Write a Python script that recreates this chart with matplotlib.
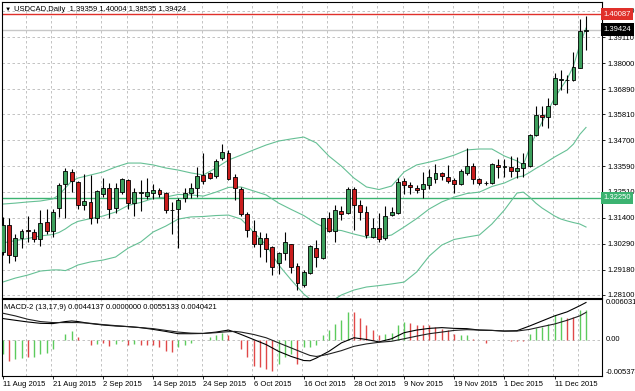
import matplotlib
matplotlib.use("Agg")
import matplotlib.pyplot as plt
import matplotlib.transforms as mtrans
import numpy as np

plt.rcParams['font.family'] = ['Liberation Sans', 'DejaVu Sans']
plt.rcParams['font.size'] = 5.5

# ---- data ----
symbol = "USDCAD,Daily"
last_ohlc = [1.39359, 1.40004, 1.38535, 1.39424]
date_labels = ["11 Aug 2015", "21 Aug 2015", "2 Sep 2015", "14 Sep 2015", "24 Sep 2015",
               "6 Oct 2015", "16 Oct 2015", "28 Oct 2015", "9 Nov 2015", "19 Nov 2015",
               "1 Dec 2015", "11 Dec 2015"]

opens = [1.2995, 1.3109, 1.2976, 1.3055, 1.3087, 1.3080, 1.3051, 1.3121, 1.3083, 1.3180,
         1.3282, 1.3336, 1.3293, 1.3194, 1.3207, 1.3137, 1.3240, 1.3265, 1.3180, 1.3249,
         1.3301, 1.3204, 1.3246, 1.3234, 1.3246, 1.3258, 1.3244, 1.3173, 1.3175, 1.3222,
         1.3247, 1.3265, 1.3322, 1.3331, 1.3318, 1.3393, 1.3417, 1.3315, 1.3261, 1.3154,
         1.3083, 1.3027, 1.3055, 1.3015, 1.2947, 1.2990, 1.3026, 1.2934, 1.2853, 1.2903,
         1.3012, 1.2966, 1.3137, 1.3083, 1.3168, 1.3158, 1.3261, 1.3194, 1.3165, 1.3058,
         1.3094, 1.3055, 1.3150, 1.3161, 1.3298, 1.3279, 1.3268, 1.3261, 1.3279, 1.3304,
         1.3329, 1.3315, 1.3301, 1.3282, 1.3329, 1.3360, 1.3304, 1.3287, 1.3286, 1.3365,
         1.3358, 1.3358, 1.3340, 1.3351, 1.3362, 1.3493, 1.3578, 1.3568, 1.3625, 1.3727,
         1.3726, 1.3727, 1.3780, 1.39359]
highs = [1.3144, 1.3138, 1.3072, 1.3093, 1.3147, 1.3090, 1.3173, 1.3176, 1.3176, 1.3286,
         1.3350, 1.3346, 1.3298, 1.3326, 1.3322, 1.3258, 1.3309, 1.3288, 1.3288, 1.3311,
         1.3304, 1.3265, 1.3301, 1.3308, 1.3283, 1.3265, 1.3251, 1.3207, 1.3222, 1.3265,
         1.3288, 1.3356, 1.3417, 1.3336, 1.3389, 1.3453, 1.3429, 1.3326, 1.3270, 1.3165,
         1.3130, 1.3079, 1.3075, 1.3020, 1.2994, 1.3079, 1.3027, 1.2945, 1.2917, 1.3023,
         1.3045, 1.3138, 1.3165, 1.3194, 1.3190, 1.3270, 1.3272, 1.3215, 1.3190, 1.3137,
         1.3158, 1.3190, 1.3187, 1.3308, 1.3311, 1.3293, 1.3279, 1.3336, 1.3346, 1.3369,
         1.3336, 1.3365, 1.3308, 1.3346, 1.3436, 1.3374, 1.3308, 1.3298, 1.3372, 1.3389,
         1.3389, 1.3403, 1.3397, 1.3415, 1.3497, 1.3617, 1.3617, 1.3649, 1.3759, 1.3770,
         1.3749, 1.3848, 1.3987, 1.40004]
lows = [1.2981, 1.2945, 1.2956, 1.3012, 1.3037, 1.3037, 1.3019, 1.3070, 1.3058, 1.3141,
        1.3137, 1.3251, 1.3176, 1.3173, 1.3113, 1.3116, 1.3228, 1.3137, 1.3158, 1.3240,
        1.3176, 1.3147, 1.3168, 1.3219, 1.3219, 1.3227, 1.3158, 1.3070, 1.3009, 1.3208,
        1.3224, 1.3228, 1.3284, 1.3304, 1.3311, 1.3388, 1.3301, 1.3215, 1.3147, 1.3058,
        1.3015, 1.2970, 1.2951, 1.2895, 1.2899, 1.2959, 1.2905, 1.2831, 1.2845, 1.2899,
        1.2928, 1.2962, 1.3080, 1.3037, 1.3130, 1.3155, 1.3087, 1.3130, 1.3052, 1.3055,
        1.3037, 1.3045, 1.3147, 1.3155, 1.3241, 1.3241, 1.3244, 1.3222, 1.3261, 1.3289,
        1.3301, 1.3286, 1.3244, 1.3279, 1.3322, 1.3284, 1.3279, 1.3279, 1.3284, 1.3308,
        1.3315, 1.3315, 1.3308, 1.3315, 1.3358, 1.3488, 1.3531, 1.3521, 1.3621, 1.3685,
        1.3672, 1.3724, 1.3777, 1.38535]
closes = [1.3109, 1.2981, 1.3055, 1.3083, 1.3082, 1.3051, 1.3118, 1.3082, 1.3164, 1.3279,
          1.3339, 1.3296, 1.3194, 1.3211, 1.3137, 1.3254, 1.3265, 1.3177, 1.3265, 1.3305,
          1.3204, 1.3249, 1.3248, 1.3251, 1.3258, 1.3240, 1.3173, 1.3174, 1.3215, 1.3246,
          1.3265, 1.3318, 1.3298, 1.3309, 1.3383, 1.3419, 1.3304, 1.3265, 1.3155, 1.3087,
          1.3026, 1.3055, 1.3008, 1.2931, 1.2990, 1.3036, 1.2928, 1.2862, 1.2907, 1.3020,
          1.2973, 1.3137, 1.3083, 1.3173, 1.3154, 1.3261, 1.3194, 1.3165, 1.3066, 1.3094,
          1.3051, 1.3147, 1.3164, 1.3293, 1.3279, 1.3269, 1.3258, 1.3283, 1.3312, 1.3332,
          1.3318, 1.3298, 1.3282, 1.3340, 1.3360, 1.3304, 1.3286, 1.3288, 1.3369, 1.3358,
          1.3359, 1.3340, 1.3353, 1.3375, 1.3493, 1.3578, 1.3568, 1.3617, 1.3737, 1.3730,
          1.3727, 1.3782, 1.3937, 1.39424]

# Bollinger bands, sampled at these bars
bb_bars = [0, 2, 4, 6, 8, 9, 10, 11, 12, 14, 16, 18, 20, 22, 24, 26, 28, 30, 32, 34,
           36, 38, 40, 42, 44, 46, 48, 50, 52, 54, 56, 58, 60, 62, 64, 66, 68, 70, 72, 74,
           76, 78, 80, 82, 83, 84, 85, 86, 87, 88, 89, 90, 91, 92, 93]
bb_upper = [1.3198, 1.3202, 1.3207, 1.3211, 1.3220, 1.3237, 1.3267, 1.3296, 1.3309, 1.3322,
            1.3335, 1.3356, 1.3373, 1.3373, 1.3365, 1.3352, 1.3343, 1.3331, 1.3322, 1.3352,
            1.3386, 1.3407, 1.3429, 1.3450, 1.3467, 1.3476, 1.3484, 1.3459, 1.3403, 1.3360,
            1.3309, 1.3271, 1.3260, 1.3275, 1.3335, 1.3365, 1.3377, 1.3390, 1.3407, 1.3429,
            1.3433, 1.3433, 1.3403, 1.3382, 1.3365, 1.3437, 1.3497, 1.3548, 1.3599, 1.3651,
            1.3693, 1.3732, 1.3787, 1.3877, 1.3949]
bb_middle = [1.3032, 1.3042, 1.3051, 1.3062, 1.3068, 1.3077, 1.3092, 1.3111, 1.3124, 1.3136,
             1.3147, 1.3164, 1.3192, 1.3205, 1.3222, 1.3228, 1.3239, 1.3237, 1.3232, 1.3249,
             1.3269, 1.3271, 1.3254, 1.3237, 1.3202, 1.3175, 1.3149, 1.3115, 1.3089, 1.3085,
             1.3070, 1.3057, 1.3055, 1.3066, 1.3100, 1.3136, 1.3177, 1.3207, 1.3228, 1.3243,
             1.3249, 1.3273, 1.3288, 1.3313, 1.3318, 1.3333, 1.3350, 1.3365, 1.3382, 1.3399,
             1.3414, 1.3429, 1.3454, 1.3495, 1.3525]
bb_lower = [1.2865, 1.2882, 1.2895, 1.2912, 1.2917, 1.2917, 1.2914, 1.2925, 1.2938, 1.2951,
            1.2959, 1.2972, 1.3010, 1.3036, 1.3079, 1.3104, 1.3134, 1.3143, 1.3145, 1.3149,
            1.3151, 1.3134, 1.3079, 1.3023, 1.2938, 1.2874, 1.2814, 1.2771, 1.2776, 1.2810,
            1.2831, 1.2844, 1.2850, 1.2857, 1.2865, 1.2908, 1.2976, 1.3023, 1.3047, 1.3057,
            1.3066, 1.3113, 1.3173, 1.3245, 1.3249, 1.3228, 1.3202, 1.3181, 1.3164, 1.3147,
            1.3134, 1.3126, 1.3119, 1.3113, 1.3100]

price_ticks = [1.28100, 1.29180, 1.30290, 1.31400, 1.32510, 1.33590, 1.34700,
               1.35810, 1.36890, 1.38000, 1.39110, 1.40220]
resistance = 1.40087
support = 1.32250

# MACD panel
macd_title = "MACD-2 (13,17,9) 0.0044137 0.0000000 0.0055133 0.0040421"
macd_scale = [-0.005374, 0.006031]
hist = [-0.0021, -0.0031, -0.00285, -0.00275, -0.0026, -0.0026, -0.0021, -0.0020, -0.00135, 0.0,
        0.0009, 0.00125, 0.0004, 0.0, -0.00085, -0.0006, -0.00045, -0.00095, -0.0006, -0.00025,
        -0.00075, -0.0007, -0.00075, -0.00085, -0.00075, -0.0011, -0.0016, -0.00185, -0.0011, -0.00075,
        -0.00045, -0.0001, 0.0, 0.0004, 0.00075, 0.001, 0.00075, 0.0, -0.00135, -0.0026,
        -0.00395, -0.0041, -0.00435, -0.0047, -0.0036, -0.0026, -0.0021, -0.0036, -0.0011, -0.0011,
        -0.00085, 0.00075, 0.0014, 0.0024, 0.0029, 0.00405, 0.00405, 0.00325, 0.00225, 0.0014,
        0.00075, 0.0009, 0.00105, 0.00215, 0.00265, 0.00255, 0.00225, 0.00215, 0.00215, 0.0019,
        0.00165, 0.0014, 0.0009, 0.00075, 0.00065, 0.00015, -0.0001, -0.0005, 0.0, -0.00005,
        -0.00005, -0.0002, -0.0002, -0.0002, 0.0009, 0.00175, 0.0019, 0.0024, 0.00365, 0.0034,
        0.00315, 0.0034, 0.0044, 0.0044137]
hist_dir = ("GRGGRGGGGGGGRRRGRRGGRGRRRRRRGGGGGGGGRRRRRRRRGGGRGGG"
            "GGGGGRRRRRGGGGRRRRRRRRGGRRRGRRRRRGGGGGGRRGG")
line_bars = [0, 2, 4, 6, 8, 10, 11, 12, 14, 16, 18, 20, 22, 24, 26, 28, 30, 32, 34, 35,
             36, 37, 38, 40, 42, 44, 46, 48, 49, 50, 51, 52, 54, 56, 58, 60, 62, 64, 66, 68,
             70, 72, 74, 76, 78, 80, 82, 84, 86, 88, 90, 92, 93]
macd_line = [0.00314, 0.00288, 0.00263, 0.00243, 0.00239, 0.00269, 0.00278, 0.00269, 0.00239, 0.00218,
             0.00203, 0.00194, 0.00179, 0.00153, 0.00123, 0.00089, 0.00089, 0.00093, 0.00113, 0.00128,
             0.00143, 0.00113, 0.00078, 0.00003, -0.00072, -0.00173, -0.00248, -0.00308, -0.00312, -0.00272,
             -0.00222, -0.00173, -0.00047, 0.00029, 0.00003, -0.00032, 0.00014, 0.00104, 0.00143, 0.00168,
             0.00179, 0.00168, 0.00164, 0.00143, 0.00138, 0.00128, 0.00134, 0.00203, 0.00278, 0.00353,
             0.00413, 0.00503, 0.0055133]
signal_line = [0.00393, 0.00353, 0.00303, 0.00269, 0.00254, 0.00254, 0.00254, 0.00254, 0.00243, 0.00224,
               0.00209, 0.00194, 0.00179, 0.00164, 0.00138, 0.00113, 0.00098, 0.00093, 0.00104, 0.00112,
               0.00119, 0.00123, 0.00113, 0.00078, 0.00029, -0.00047, -0.00122, -0.00197, -0.00233, -0.00248,
               -0.00233, -0.00212, -0.00162, -0.00098, -0.00062, -0.00038, -0.00023, 0.00014, 0.00053, 0.00089,
               0.00113, 0.00138, 0.00149, 0.00143, 0.00138, 0.00128, 0.00128, 0.00153, 0.00194, 0.00233,
               0.00288, 0.00353, 0.0040421]

# ---- styling ----
GREEN = '#3c9f5c'
RED = '#c91d1d'
BAND = '#66c095'
GRID = '#b9b9b9'

W, H = 635, 391
fig = plt.figure(figsize=(W / 100, H / 100), dpi=100)
fig.patch.set_facecolor('white')
ax = fig.add_axes([2 / W, (H - 297.5) / H, 600 / W, 295.5 / H])
ax2 = fig.add_axes([2 / W, (H - 376) / H, 600 / W, 77 / H], sharex=ax)

n = len(opens)
x = np.arange(n)
o = np.array(opens); h = np.array(highs); l = np.array(lows); c = np.array(closes)

ax.set_xlim(-0.11, 95.55)
ax.set_ylim(1.27992, 1.40604)

# grid
for lvl in price_ticks:
    ax.axhline(lvl, color=GRID, lw=0.6, ls=(0, (3, 3)), zorder=0)
for gx in np.arange(3.75, n, 4):
    ax.axvline(gx, color=GRID, lw=0.6, ls=(0, (3, 3)), zorder=0)
    ax2.axvline(gx, color=GRID, lw=0.6, ls=(0, (3, 3)), zorder=0)

# horizontal levels
ax.axhline(resistance, color='#e0302a', lw=1.0, zorder=1)
ax.axhline(last_ohlc[3], color='#c8c8c8', lw=1.0, zorder=1)
ax.axhline(support, color='#3cb371', lw=1.0, zorder=1)

# bollinger
for band in (bb_upper, bb_middle, bb_lower):
    ax.plot(bb_bars, band, color=BAND, lw=0.8, zorder=2)

# candles
ax.vlines(x, l, h, color='black', lw=0.8, zorder=3)
body_lo = np.minimum(o, c)
body_h = np.maximum(np.abs(c - o), 0.00002)
body_col = [GREEN if cc >= oo else RED for oo, cc in zip(o, c)]
ax.bar(x, body_h, bottom=body_lo, width=0.62, color=body_col,
       edgecolor='black', linewidth=0.6, zorder=4)

# right price axis
ax.yaxis.tick_right()
ax.set_yticks(price_ticks)
ax.set_yticklabels([f"{v:.5f}" for v in price_ticks])
ax.tick_params(axis='y', length=2.5, width=0.6, pad=1.5, labelsize=5.5, colors='black')
ax.tick_params(axis='x', bottom=False, labelbottom=False)

tr = mtrans.blended_transform_factory(ax.transAxes, ax.transData)
for val, fc in ((resistance, '#e0302a'), (last_ohlc[3], 'black'), (support, '#3cb371')):
    ax.text(1.0022, val, f"{val:.5f}", transform=tr, ha='left', va='center',
            color='white', fontsize=5.5, clip_on=False, zorder=10,
            bbox=dict(boxstyle='square,pad=0.35', fc=fc, ec='none'))

ax.text(0.004, 0.985, "\u25bc", transform=ax.transAxes, fontsize=4.5, va='top', ha='left')
ax.text(0.02, 0.988, f"{symbol}  " + " ".join(f"{v:.5f}" for v in last_ohlc),
        transform=ax.transAxes, va='top', ha='left', fontsize=5.5)

for sp in ax.spines.values():
    sp.set_color('black'); sp.set_linewidth(0.8)

# MACD panel
ax2.set_ylim(macd_scale[0], macd_scale[1])
ax2.axhline(0, color=GRID, lw=0.6, ls=(0, (3, 3)), zorder=0)
hcol = ['#5ccb5c' if d == 'G' else '#e04848' for d in hist_dir]
ax2.vlines(x, 0, hist, colors=hcol, lw=1.0, zorder=2)
ax2.plot(line_bars, macd_line, color='black', lw=0.8, zorder=3)
ax2.plot(line_bars, signal_line, color='#202020', lw=0.8, zorder=3)
ax2.text(0.004, 0.93, macd_title, transform=ax2.transAxes, va='top', ha='left', fontsize=5.5)

ax2.set_yticks([])
tr2 = mtrans.blended_transform_factory(ax2.transAxes, ax2.transData)
ax2.text(1.0067, macd_scale[1], f"{macd_scale[1]:.6f}", transform=tr2, va='top', ha='left',
         fontsize=5.5, clip_on=False)
ax2.text(1.0067, 0, "0.00", transform=tr2, va='center', ha='left', fontsize=5.5, clip_on=False)
ax2.text(1.0067, macd_scale[0], f"{macd_scale[0]:.6f}", transform=tr2, va='bottom', ha='left',
         fontsize=5.5, clip_on=False)

ax2.set_xticks(np.arange(0, n, 8))
ax2.set_xticklabels(date_labels, ha='left')
ax2.tick_params(axis='x', length=2, width=0.6, pad=1.5, labelsize=5.5)
for sp in ax2.spines.values():
    sp.set_color('black'); sp.set_linewidth(0.8)

fig.savefig("out.png", dpi=100)
